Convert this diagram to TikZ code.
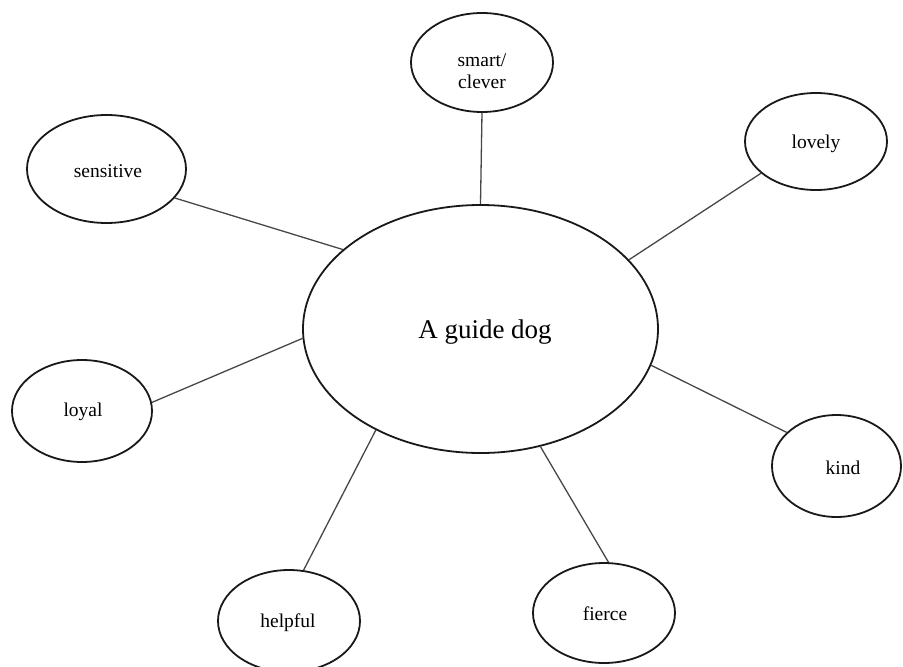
\documentclass[tikz,border=0pt]{standalone}
\usepackage{fontspec}
\setmainfont{Liberation Serif}
\usetikzlibrary{shapes.geometric}
\begin{document}
\begin{tikzpicture}[x=1pt,y=-1pt,
  bubble/.style={draw=black!90, line width=1.8pt, ellipse, inner sep=0pt},
  lbl/.style={inner sep=0pt, align=center, font=\fontsize{19.5}{22.5}\selectfont},
  link/.style={draw=black!72, line width=1.3pt}]
\useasboundingbox (0,0) rectangle (903,667);
\node[bubble, minimum width=355pt, minimum height=248pt] (dog) at (480.5,329) {};
\node[bubble, minimum width=142pt, minimum height=99pt] (smart) at (482,62.5) {};
\node[bubble, minimum width=159pt, minimum height=108pt] (sens) at (106.5,169) {};
\node[bubble, minimum width=142pt, minimum height=97pt] (lovely) at (816,141.5) {};
\node[bubble, minimum width=140pt, minimum height=102pt] (loyal) at (82,411) {};
\node[bubble, minimum width=129pt, minimum height=102pt] (kind) at (836.5,466) {};
\node[bubble, minimum width=142pt, minimum height=102pt] (helpful) at (289,621) {};
\node[bubble, minimum width=142pt, minimum height=100pt] (fierce) at (604,613) {};
\node[lbl, font=\fontsize{27}{30}\selectfont] (dogt) at (485,332) {A guide dog};
\node[lbl] (smartt) at (482,71) {smart/\\clever};
\node[lbl] (senst) at (108,171) {sensitive};
\node[lbl] (lovelyt) at (816,144) {lovely};
\node[lbl] (loyalt) at (83,412) {loyal};
\node[lbl] (kindt) at (843,468) {kind};
\node[lbl] (helpfult) at (288,623) {helpful};
\node[lbl] (fiercet) at (605,614) {fierce};
\draw[link] (smart.270) -- (dog.90);
\draw[link] (sens.-23.4) -- (dog.150.9);
\draw[link] (lovely.210) -- (dog.25.9);
\draw[link] (loyal.7.3) -- (dog.183.2);
\draw[link] (kind.146.8) -- (dog.348.8);
\draw[link] (helpful.74) -- (dog.224.9);
\draw[link] (fierce.85.4) -- (dog.297.3);
\end{tikzpicture}
\end{document}
